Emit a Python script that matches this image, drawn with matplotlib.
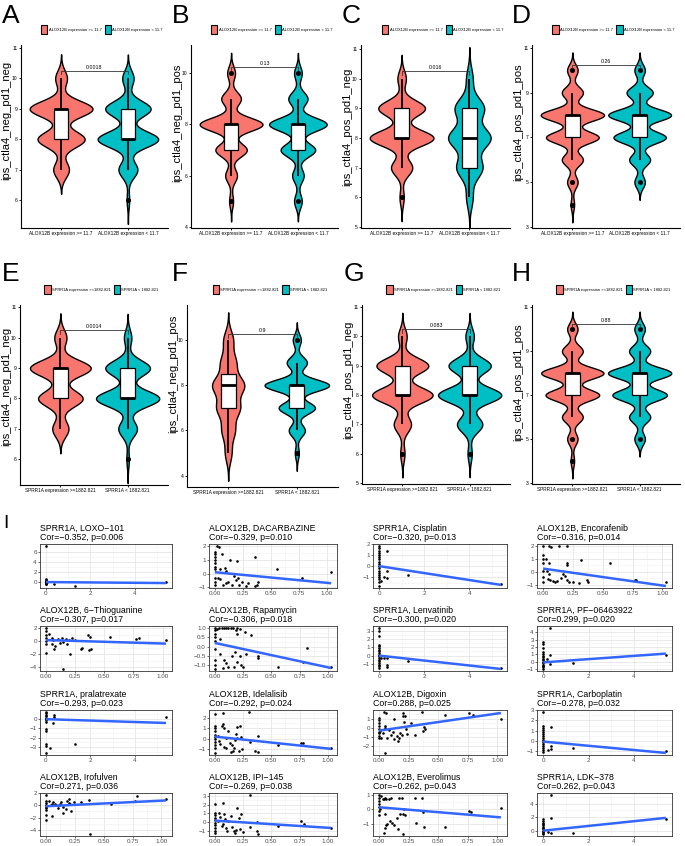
import numpy as np
import matplotlib
matplotlib.use("Agg")
import matplotlib.pyplot as plt
from matplotlib.patches import Patch, Rectangle
from matplotlib.ticker import AutoMinorLocator

# ---------------- DATA ----------------
RED, TEAL = "#F8766D", "#00BFC4"
levels = [4, 5, 6, 7, 8, 9, 10]

violin_letters = ["A", "B", "C", "D", "E", "F", "G", "H"]
violin_ylabels = ["ips_ctla4_neg_pd1_neg", "ips_ctla4_neg_pd1_pos", "ips_ctla4_pos_pd1_neg", "ips_ctla4_pos_pd1_pos"] * 2
violin_pvals = ["0.0018", "0.13", "0.016", "0.26", "0.0014", "0.9", "0.083", "0.88"]
# counts of samples at each score level (levels 4..10)
high_counts = [
    [0, 0, 0, 12, 36, 48, 9],
    [0, 3, 9, 24, 48, 15, 6],
    [0, 0, 3, 15, 45, 33, 6],
    [2, 6, 12, 30, 36, 12, 6],
    [0, 0, 0, 12, 33, 45, 9],
    [0, 6, 12, 21, 29, 14, 9],
    [0, 0, 3, 12, 42, 36, 6],
    [2, 6, 12, 31, 36, 12, 6],
]
low_counts = [
    [0, 0, 2, 15, 48, 36, 9],
    [0, 6, 9, 27, 45, 15, 6],
    [0, 0, 6, 24, 39, 27, 6],
    [0, 6, 12, 30, 36, 15, 6],
    [0, 0, 2, 15, 51, 36, 6],
    [0, 3, 12, 27, 48, 15, 6],
    [0, 0, 3, 18, 45, 30, 6],
    [0, 6, 12, 31, 36, 12, 6],
]
violin_yticks = [[6, 7, 8, 9, 10, 11], [4, 6, 8, 10], [5, 6, 7, 8, 9, 10, 11], [3, 5, 7, 9, 11]] * 2
violin_ylims = [(5.08, 11.1), (3.95, 11.1), (4.97, 11.13), (2.95, 11.13),
                (5.15, 11.08), (3.5, 11.55), (4.97, 11.07), (2.95, 11.1)]
alox_groups = ["ALOX12B expression >= 11.7", "ALOX12B expression < 11.7"]
sprr_groups = ["SPRR1A expression >=1882.821", "SPRR1A < 1882.821"]
bracket_y = 10.25

scatter_titles = [
    "SPRR1A, LOXO\u2212101", "ALOX12B, DACARBAZINE", "SPRR1A, Cisplatin", "ALOX12B, Encorafenib",
    "ALOX12B, 6\u2212Thioguanine", "ALOX12B, Rapamycin", "SPRR1A, Lenvatinib", "SPRR1A, PF\u221206463922",
    "SPRR1A, pralatrexate", "ALOX12B, Idelalisib", "ALOX12B, Digoxin", "SPRR1A, Carboplatin",
    "ALOX12B, Irofulven", "ALOX12B, IPI\u2212145", "ALOX12B, Everolimus", "SPRR1A, LDK\u2212378",
]
scatter_cor = ["\u22120.352", "\u22120.329", "\u22120.320", "\u22120.316", "\u22120.307", "\u22120.306", "\u22120.300", "0.299",
               "\u22120.293", "\u22120.292", "0.288", "\u22120.278", "0.271", "\u22120.269", "\u22120.262", "0.262"]
scatter_p = ["0.006", "0.010", "0.013", "0.014", "0.017", "0.018", "0.020", "0.020",
             "0.023", "0.024", "0.025", "0.032", "0.036", "0.038", "0.043", "0.043"]

s01 = [(0, 7.3), (0, 0.5), (0, 0.3), (0, 0.2), (0, 0.1), (0, 0.0), (0, -0.1), (0, -0.2), (0, -0.3), (0, -0.4),
       (0, -0.5), (0.05, 0.0), (0.35, -0.35), (1.3, -0.85), (5.4, -0.1)]
s02 = [(0, 1.6), (0, 1.4), (0, 1.2), (0, 1.0), (0, 0.8), (0, 0.5), (0, 0.3), (0, -0.3), (0, -0.6), (0, -0.8),
       (0.02, 2.0), (0.04, 1.9), (0.06, 1.4), (0.05, 0.3), (0.09, 0.4), (0.1, 0.2), (0.03, -0.3), (0.05, -0.4),
       (0.07, -0.8), (0.1, -0.7), (0.12, -0.6), (0.14, 0.95), (0.15, -0.8), (0.17, -0.2), (0.19, -0.5), (0.2, 0.9),
       (0.21, -0.3), (0.22, -0.8), (0.24, -0.6), (0.28, -0.9), (0.3, -0.7), (0.36, 1.2), (0.36, -0.9), (0.38, -0.8),
       (0.39, -0.6), (0.56, 0.3), (0.78, -0.3), (1.04, 0.1)]
s03 = [(0, 1.8), (0, 1.6), (0, 1.4), (0, 1.2), (0, 1.0), (0, 0.8), (0, 0.6), (0, 0.4), (0, 0.2), (0, 0.0),
       (0, -0.2), (0, -0.4), (0, -0.6), (0, -0.8), (0, -1.0), (0, -1.2), (0, -1.4), (0, -1.8), (0.35, 1.4),
       (0.35, -0.4), (0.2, -1.0), (0.35, -1.1), (0.1, -1.35), (1.3, -0.8), (5.4, -1.6)]
s04 = [(0, 2.0), (0.05, 2.0), (0.07, 1.95), (0.13, 2.0), (0.2, 2.0), (0, 1.3), (0, 1.0), (0.02, 1.0), (0, 0.7),
       (0.05, 0.7), (0.2, 0.7), (0.2, 0.55), (0.32, 0.9), (0.56, 0.7), (0, 0.1), (0.03, 0.1), (0.05, -0.2),
       (0, -0.4), (0.04, -0.55), (0.06, -0.6), (0.08, -0.7), (0.1, -0.8), (0.12, -0.75), (0.15, -0.5), (0.17, -0.2),
       (0.18, -0.3), (0.2, -0.6), (0.22, -0.8), (0.25, -0.8), (0.3, -0.85), (0.37, -0.6), (0.38, -0.8), (0.77, -0.6),
       (0.78, -0.6), (1.03, -0.8), (0, -0.8)]
s05 = [(0, 2.0), (0, 1.5), (0, 1.0), (0, 0.5), (0, 0.0), (0, -0.4), (0, -1.8), (0.03, 1.1), (0.05, 0.5),
       (0.06, 0.2), (0.05, -0.5), (0.07, -1.2), (0.08, -0.8), (0.1, 0.3), (0.12, -0.3), (0.14, 0.4), (0.15, -0.2),
       (0.17, 0.3), (0.18, -0.4), (0.2, 0.2), (0.21, -2.0), (0.22, 0.4), (0.15, -4.3), (0.3, -1.2), (0.31, -1.1),
       (0.36, 0.9), (0.38, 0.6), (0.37, -1.4), (0.39, -1.3), (0.55, 0.6), (0.77, 0.3), (0.8, 0.5), (1.03, 0.2),
       (0.25, 0.1)]
s06 = [(0, 1.0), (0, 0.9), (0, 0.7), (0, 0.5), (0, 0.3), (0, -0.1), (0, -0.7), (0, -1.0), (0, -1.2),
       (0.02, 0.95), (0.04, 1.0), (0.06, 1.0), (0.08, 1.0), (0.1, 1.0), (0.12, 1.0), (0.14, 1.0), (0.16, 1.0),
       (0.19, 0.9), (0.2, 1.0), (0.22, 0.95), (0.2, 0.7), (0.27, 0.8), (0.32, 0.6), (0.05, 0.4), (0.05, -0.4),
       (0.08, -0.7), (0.1, -0.9), (0.12, -1.1), (0.15, -0.5), (0.18, -0.3), (0.2, -0.8), (0.22, -0.5), (0.25, -1.1),
       (0.28, -0.4), (0.38, -0.5), (0.38, -0.6), (0.56, -1.1), (0.78, -0.8), (0.82, -0.05), (1.03, -1.1),
       (0.07, -1.15), (0.17, -1.1), (0.23, -1.0)]
s07 = [(0, 3.3), (0, 3.0), (0, 2.3), (0, 1.3), (0, 1.1), (0, 0.9), (0, 0.7), (0, 0.5), (0, 0.3), (0, 0.1),
       (0, -0.1), (0, -0.3), (0, -0.5), (0, -0.7), (0, -0.9), (0, -1.1), (0, -1.3), (0, -1.5), (0.1, -0.25),
       (0.2, -0.25), (0.35, -0.25), (0.35, -1.1), (0.35, -1.35), (1.3, -0.6), (5.4, -1.5)]
s08 = [(0, 2.7), (0, 2.4), (0, 1.8), (0, 1.3), (0, 1.0), (0, 0.8), (0, 0.6), (0, 0.4), (0, 0.2), (0, 0.0),
       (0, -0.2), (0, -0.4), (0, -0.6), (0, -0.8), (0, -1.0), (0.3, 4.6), (0.3, 0.9), (0.3, -0.3), (0.15, 0.3),
       (1.3, -0.2), (5.4, 0.9)]
s09 = [(0, 0.7), (0, 0.55), (0, 0.4), (0, 0.25), (0, 0.1), (0, 0.0), (0, -0.1), (0, -0.3), (0, -1.1), (0, -1.3),
       (0, -2.7), (0, -2.85), (0, -3.6), (0.2, -3.1), (0.35, 0.35), (0.35, 0.2), (0.3, -0.5), (1.3, -2.7),
       (5.4, 0.2)]
s10 = [(0, 2.4), (0, 1.2), (0, 1.0), (0, 0.7), (0, 0.4), (0, 0.2), (0, 0.0), (0, -0.3), (0, -0.6), (0, -0.9),
       (0, -1.4), (0.03, 0.3), (0.04, -0.2), (0.05, -0.5), (0.06, 1.2), (0.07, 1.4), (0.07, 2.5), (0.08, 1.0),
       (0.08, -0.8), (0.1, -0.9), (0.1, 0.05), (0.12, 0.7), (0.13, -0.4), (0.14, -1.3), (0.15, -0.6), (0.16, -1.2),
       (0.17, -0.9), (0.18, -0.1), (0.19, 0.5), (0.2, 1.1), (0.2, 0.1), (0.21, -1.2), (0.22, 1.2), (0.23, 0.2),
       (0.24, -1.0), (0.3, 2.6), (0.31, -0.3), (0.36, -1.2), (0.38, 0.3), (0.38, -1.3), (0.56, -0.6), (0.76, -0.4),
       (0.78, -0.4), (1.03, -0.9)]
s11 = [(0, 1.1), (0, 0.8), (0, 0.5), (0, 0.2), (0, -0.1), (0, -0.4), (0, -0.6), (0, -0.9), (0, -1.1),
       (0.02, -1.1), (0.04, 1.7), (0.06, 1.6), (0.03, -0.5), (0.05, 0.0), (0.07, -1.1), (0.08, -0.2), (0.1, -0.8),
       (0.12, -0.4), (0.13, 0.9), (0.15, -0.9), (0.16, -1.4), (0.17, -1.1), (0.18, -0.5), (0.19, -0.8), (0.2, 1.6),
       (0.2, 1.3), (0.21, 0.6), (0.22, 1.3), (0.23, -0.1), (0.24, -0.7), (0.27, 0.5), (0.3, -0.8), (0.36, 1.7),
       (0.37, -0.3), (0.38, 0.1), (0.39, -0.1), (0.56, 1.4), (0.76, 1.6), (0.79, 1.4), (1.03, 0.9), (0.05, -2.7),
       (0.13, -1.2), (0.05, 0.2), (0.01, -0.3)]
s12 = [(0, 2.8), (0, 1.5), (0, 1.3), (0, 1.1), (0, 0.9), (0, 0.7), (0, 0.5), (0, 0.3), (0, 0.1), (0, -0.1),
       (0, -0.3), (0, -0.5), (0, -0.7), (0, -0.9), (0, -1.05), (0.35, 1.4), (0.35, -0.5), (0.35, -0.8),
       (0.2, -0.9), (1.3, -0.7), (5.4, -1.0)]
s13 = [(0, 1.7), (0, 0.7), (0, 0.4), (0, 0.1), (0, -0.2), (0, -0.5), (0, -0.8), (0, -1.5), (0, -2.4),
       (0.03, 0.7), (0.05, 0.3), (0.05, -1.8), (0.06, 0.5), (0.08, 0.2), (0.09, 0.1), (0.1, -0.5), (0.12, 0.3),
       (0.13, 0.5), (0.15, -0.3), (0.15, -1.2), (0.17, -0.6), (0.18, 0.7), (0.2, 1.0), (0.2, 0.4), (0.21, 0.2),
       (0.22, -1.0), (0.24, 0.6), (0.3, 0.5), (0.37, 0.9), (0.38, -4.7), (0.56, 0.3), (0.77, 0.7), (0.79, 1.6),
       (1.04, 1.1), (0.11, 0.0), (0.04, 0.0)]
s14 = [(0, 2.1), (0, 1.0), (0, 0.8), (0, 0.5), (0, 0.2), (0, -0.1), (0, -0.4), (0, -0.7), (0, -1.0), (0, -1.3),
       (0.03, 0.1), (0.04, 1.0), (0.05, 0.6), (0.06, -0.5), (0.07, 2.2), (0.07, -0.2), (0.08, 0.9), (0.09, 0.3),
       (0.1, -0.7), (0.11, -1.1), (0.12, 0.1), (0.14, 0.7), (0.15, -0.6), (0.17, -1.0), (0.18, -1.3), (0.19, -0.9),
       (0.2, 1.6), (0.21, 0.4), (0.22, -0.8), (0.23, 0.9), (0.25, -1.2), (0.31, 3.1), (0.31, -0.6), (0.37, 0.0),
       (0.37, -1.1), (0.38, -1.4), (0.56, -0.5), (0.76, 0.1), (0.79, -0.2), (1.03, -0.7)]
s15 = [(0, 1.0), (0, 0.8), (0, 0.6), (0, 0.4), (0, 0.2), (0, -0.1), (0, -0.4), (0.02, 0.9), (0.03, 0.7),
       (0.04, 0.7), (0.05, 0.8), (0.06, 0.7), (0.08, 0.75), (0.1, 0.8), (0.05, -0.3), (0.05, -1.3), (0.06, -1.1),
       (0.04, -1.6), (0.07, -1.0), (0.09, -0.8), (0.11, -0.95), (0.13, -1.1), (0.15, -0.6), (0.16, -1.35),
       (0.17, 0.8), (0.19, 0.8), (0.2, -1.7), (0.2, -0.3), (0.21, 0.0), (0.22, -0.4), (0.3, 0.8), (0.31, -0.95),
       (0.36, 0.8), (0.37, -0.2), (0.38, -1.2), (0.56, -1.2), (0.76, -0.1), (0.78, -0.2), (1.03, 0.1),
       (0.01, 0.0), (0.18, -0.3)]
s16 = [(0, 1.8), (0, 1.5), (0, 1.2), (0, 1.0), (0, 0.8), (0, 0.6), (0, 0.4), (0, 0.2), (0, 0.0), (0, -0.2),
       (0, -0.4), (0, -0.5), (0.35, 5.3), (0.35, 1.9), (0.35, -0.3), (0.2, -0.2), (1.3, -0.3), (5.4, 1.7)]
scatter_points = [s01, s02, s03, s04, s05, s06, s07, s08, s09, s10, s11, s12, s13, s14, s15, s16]
# fitted line values at min(x) and max(x)
fit_start = [-0.05, 0.1, 0.0, 0.25, 0.15, 0.2, 0.0, -0.1, -0.05, 0.2, -0.3, -0.05, -0.15, 0.15, 0.15, 0.0]
fit_end = [-0.25, -0.7, -1.7, -1.1, -0.4, -1.15, -1.6, 1.1, -0.45, -1.0, 1.6, -1.15, 0.8, -0.7, -0.55, 1.9]
scatter_yticks = [[0, 2, 4, 6], [-1, 0, 1, 2], [-1, 0, 1, 2], [-1, 0, 1, 2], [-4, -2, 0, 2],
                  [-1.0, -0.5, 0.0, 0.5, 1.0], [-1, 0, 1, 2, 3], [-1, 0, 1, 2, 3, 4], [-3, -2, -1, 0],
                  [-1, 0, 1, 2], [-2, -1, 0, 1], [-1, 0, 1, 2, 3], [-4, -2, 0, 2], [-1, 0, 1, 2, 3],
                  [-1, 0, 1], [0, 2, 4]]
alox_xticks = [0.0, 0.25, 0.5, 0.75, 1.0]
sprr_xticks = [0, 2, 4]

# ---------------- FIGURE ----------------
W, H = 685, 846
fig = plt.figure(figsize=(W / 100, H / 100), dpi=100)
SANS = ["Liberation Sans", "DejaVu Sans"]
plt.rcParams["font.family"] = SANS
plt.rcParams["axes.unicode_minus"] = True


def add_ax(x0, y0, x1, y1):
    return fig.add_axes([x0 / W, 1 - y1 / H, (x1 - x0) / W, (y1 - y0) / H])


def nrd0(x):
    sd = x.std(ddof=1)
    q75, q25 = np.percentile(x, [75, 25])
    lo = min(sd, (q75 - q25) / 1.34)
    if lo <= 0:
        lo = sd
    return 0.9 * lo * len(x) ** -0.2


def kde(x, bw):
    g = np.linspace(x.min() - 3 * bw, x.max() + 3 * bw, 600)
    d = np.exp(-0.5 * ((g[:, None] - x[None, :]) / bw) ** 2).sum(1) / (len(x) * bw * np.sqrt(2 * np.pi))
    return g, d


violin_boxes = [
    (21, 45, 168, 228), (191, 45, 338, 228), (361, 45, 510, 228), (532, 45, 680, 228),
    (20, 305, 168, 485), (187, 305, 338, 487), (362, 305, 510, 484), (532, 305, 680, 484),
]
ylabel_pos = [(6.5, 120), (177, 123), (347, 127), (518, 122), (6, 386), (173, 374), (348, 380), (518, 382)]
letter_pos = [(2, 16), (172, 16), (342, 16), (512, 16), (2, 274), (172, 274), (344, 274), (512, 274)]

for i in range(8):
    ax = add_ax(*violin_boxes[i])
    groups = [np.repeat(levels, high_counts[i]).astype(float), np.repeat(levels, low_counts[i]).astype(float)]
    dens = [kde(x, nrd0(x)) for x in groups]
    dmax = max(d.max() for _, d in dens)
    for j, (x, (g, d)) in enumerate(zip(groups, dens)):
        pos = j + 1
        w = d / dmax * 0.47
        ax.fill_betweenx(g, pos - w, pos + w, facecolor=[RED, TEAL][j], edgecolor="black", lw=1.0, zorder=1)
        q1, med, q3 = np.percentile(x, [25, 50, 75])
        iqr = q3 - q1
        lw_ = x[x >= q1 - 1.5 * iqr].min()
        hw_ = x[x <= q3 + 1.5 * iqr].max()
        ax.plot([pos, pos], [lw_, q1], color="black", lw=1.3, zorder=2, solid_capstyle="butt")
        ax.plot([pos, pos], [q3, hw_], color="black", lw=1.3, zorder=2, solid_capstyle="butt")
        bwid = 0.22
        ax.add_patch(Rectangle((pos - bwid / 2, q1), bwid, q3 - q1, facecolor="white", edgecolor="black",
                               lw=0.9, zorder=3))
        ax.plot([pos - bwid / 2, pos + bwid / 2], [med, med], color="black", lw=2.0, zorder=4,
                solid_capstyle="butt")
        out = np.unique(x[(x < lw_) | (x > hw_)])
        ax.plot(np.full(len(out), pos), out, "o", color="black", ms=2.6, zorder=4)
    # bracket
    yl = violin_ylims[i]
    tip = 0.02 * (yl[1] - yl[0])
    ax.plot([1, 1, 2, 2], [bracket_y - tip, bracket_y, bracket_y, bracket_y - tip], color="#333333", lw=0.6, zorder=5)
    ax.text(1.5, bracket_y + 0.04, violin_pvals[i], ha="center", va="bottom", fontsize=3.8)
    ax.set_xlim(0.4, 2.6)
    ax.set_ylim(*yl)
    ax.set_yticks(violin_yticks[i])
    ax.set_yticklabels([str(t) for t in violin_yticks[i]], fontsize=3.6)
    labs = alox_groups if i < 4 else sprr_groups
    ax.set_xticks([1, 2])
    ax.set_xticklabels(labs, fontsize=3.4)
    for s in ["top", "right"]:
        ax.spines[s].set_visible(False)
    for s in ["left", "bottom"]:
        ax.spines[s].set_linewidth(0.8)
    ax.tick_params(length=1.6, width=0.6, pad=0.8, colors="black")
    lx, ly = ylabel_pos[i]
    fig.text(lx / W, 1 - ly / H, violin_ylabels[i], rotation=90, ha="center", va="center", fontsize=8)
    handles = [Patch(facecolor=RED, edgecolor="black", lw=0.8), Patch(facecolor=TEAL, edgecolor="black", lw=0.8)]
    ax.legend(handles, labs, loc="lower center", bbox_to_anchor=(0.55, 1.05), ncol=2, frameon=False,
              prop={"size": 2.9}, handlelength=1.6, handleheight=3.2, handletextpad=0.3,
              columnspacing=0.8, borderaxespad=0)
    fx, fy = letter_pos[i]
    fig.text(fx / W, 1 - fy / H, violin_letters[i], fontsize=19, va="center", ha="left")

fig.text(3 / W, 1 - 524 / H, "I", fontsize=14, va="center", ha="left")

col_x = [(40, 172), (209, 337), (373, 507), (537, 672)]
row_y = [(544, 588), (626, 671), (710, 755), (793, 836)]
for k in range(16):
    r, c = divmod(k, 4)
    ax = add_ax(col_x[c][0], row_y[r][0], col_x[c][1], row_y[r][1])
    pts = np.array(scatter_points[k])
    xs, ys = pts[:, 0], pts[:, 1]
    ax.scatter(xs, ys, s=3.5, c="black", lw=0, zorder=3)
    ax.plot([xs.min(), xs.max()], [fit_start[k], fit_end[k]], color="#3366FF", lw=1.8, zorder=4,
            solid_capstyle="butt")
    xr = xs.max() - xs.min()
    ax.set_xlim(xs.min() - 0.05 * xr, xs.max() + 0.05 * xr)
    ymin = min(ys.min(), fit_start[k], fit_end[k])
    ymax = max(ys.max(), fit_start[k], fit_end[k])
    yr = ymax - ymin
    ax.set_ylim(ymin - 0.05 * yr, ymax + 0.05 * yr)
    is_sprr = scatter_titles[k].startswith("SPRR1A")
    xt = sprr_xticks if is_sprr else alox_xticks
    ax.set_xticks(xt)
    ax.set_xticklabels([str(t) if is_sprr else f"{t:.2f}" for t in xt])
    yt = scatter_yticks[k]
    ax.set_yticks(yt)
    if k == 5:
        ax.set_yticklabels([f"{t:.1f}".replace("-", "\u2212") for t in yt])
    else:
        ax.set_yticklabels([str(t).replace("-", "\u2212") for t in yt])
    ax.xaxis.set_minor_locator(AutoMinorLocator(2))
    ax.yaxis.set_minor_locator(AutoMinorLocator(2))
    ax.grid(which="major", color="#E5E5E5", lw=0.6, zorder=0)
    ax.grid(which="minor", color="#F0F0F0", lw=0.4, zorder=0)
    ax.set_axisbelow(True)
    ax.tick_params(which="minor", length=0)
    ax.tick_params(which="major", length=1.5, width=0.5, color="#333333", labelsize=4.5, labelcolor="#4D4D4D", pad=0.8)
    for s in ax.spines.values():
        s.set_color("#333333")
        s.set_linewidth(0.6)
    ax.text(0.0, 1.04, f"{scatter_titles[k]}\nCor={scatter_cor[k]}, p={scatter_p[k]}", transform=ax.transAxes,
            ha="left", va="bottom", fontsize=6.3, linespacing=1.05)

fig.savefig("out.png", dpi=100)
